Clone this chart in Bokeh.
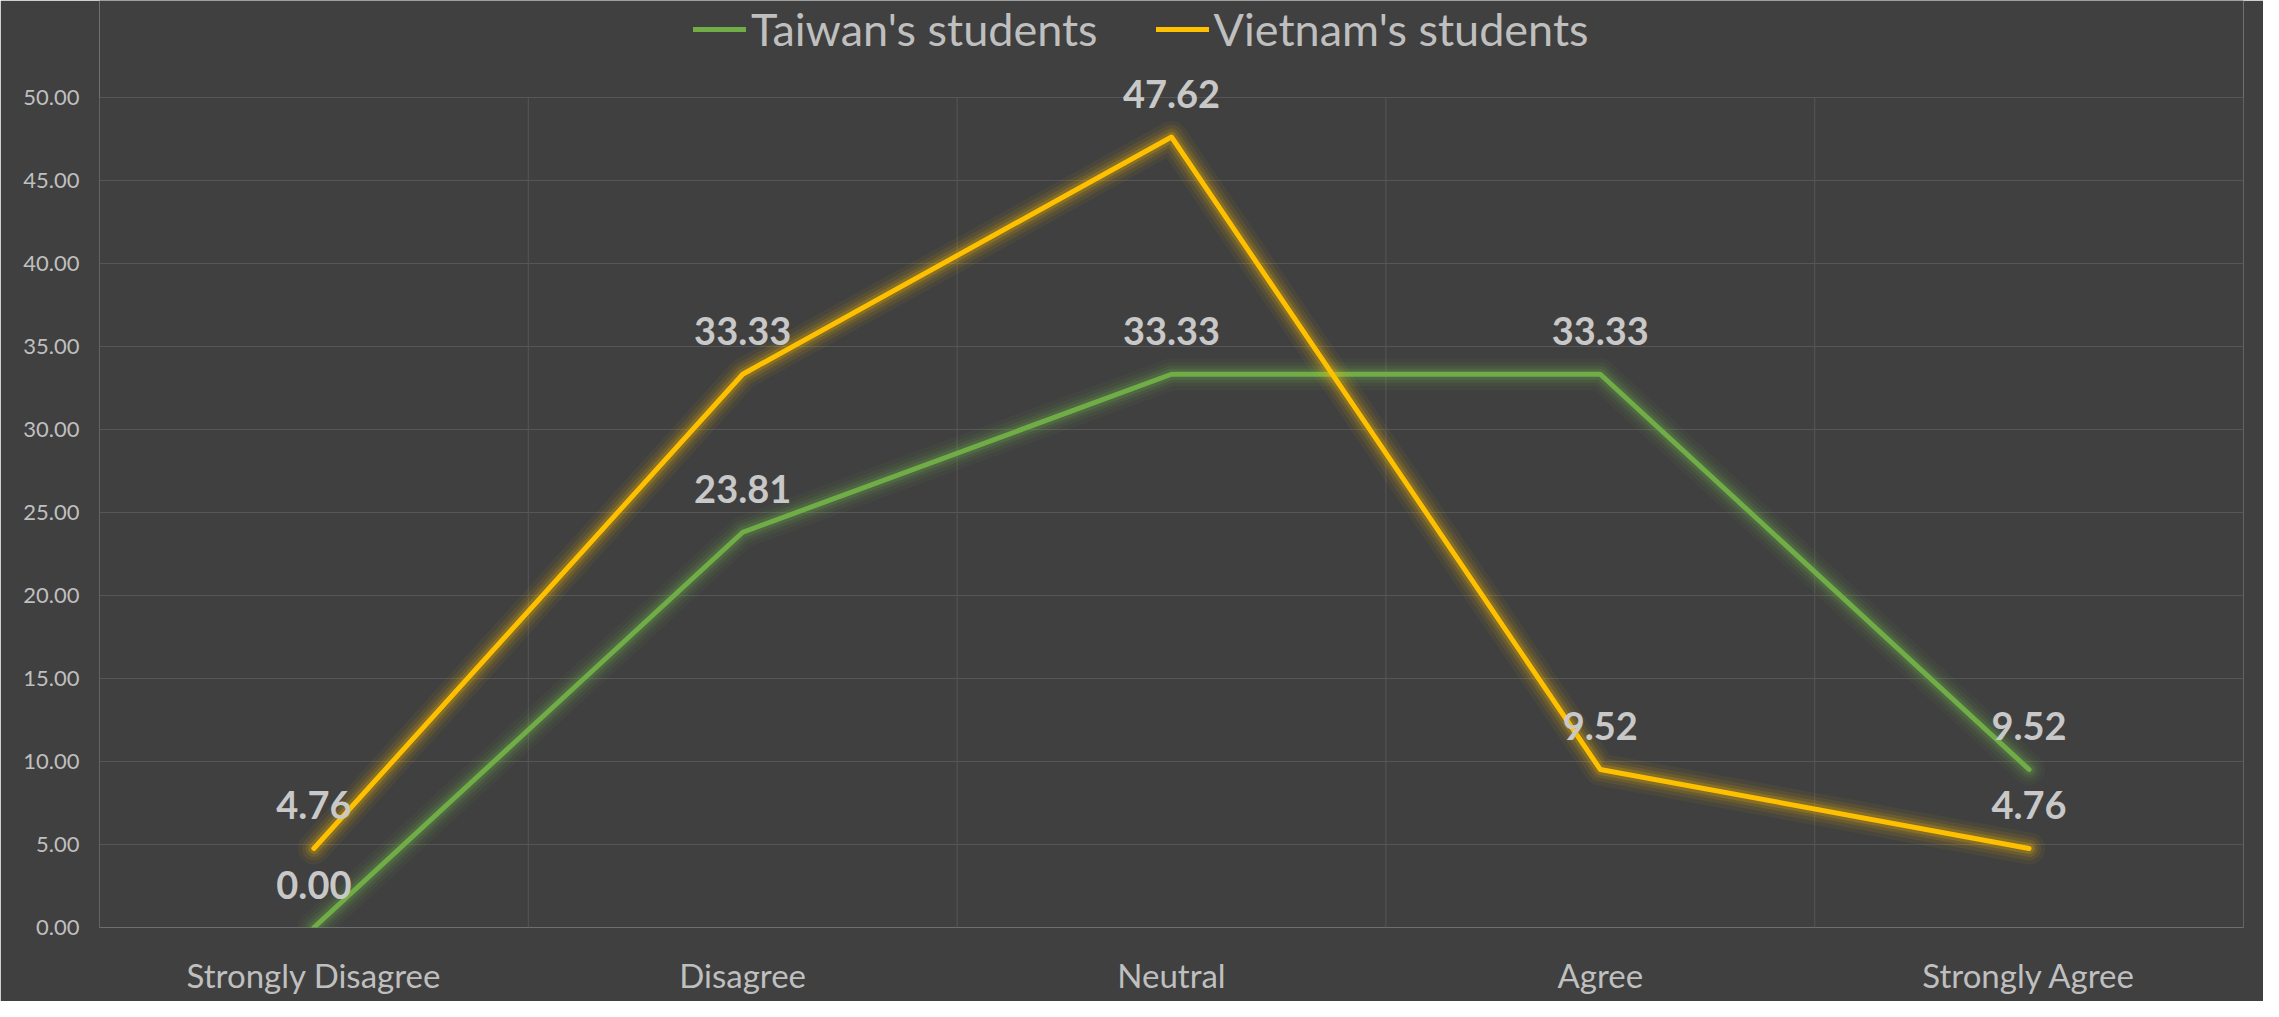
from bokeh.plotting import figure
from bokeh.models import (FactorRange, FixedTicker, NumeralTickFormatter, Legend, LegendItem,
                          ColumnDataSource, Range1d, LabelSet)
from bokeh.core.properties import value
from bokeh.embed import file_html
from bokeh.resources import INLINE

categories = ["Strongly Disagree", "Disagree", "Neutral", "Agree", "Strongly Agree"]
taiwan = [0.00, 23.81, 33.33, 33.33, 9.52]
vietnam = [4.76, 33.33, 47.62, 9.52, 4.76]
series_names = ["Taiwan's students", "Vietnam's students"]
y_ticks = [0, 5, 10, 15, 20, 25, 30, 35, 40, 45, 50]

GREEN = "#70AD47"
YELLOW = "#FFC000"
BG = "#404040"
TXT = "#BFBFBF"
GRID = "#565656"
FONT = "Lato"

# frame spans to the top of the canvas so that labels and legend are not clipped;
# the axis itself runs 0..50 (830 px), extra headroom above it is 927 px total.
y_max = y_ticks[-1]
y_top = y_max * 927 / 830

p = figure(width=2263, height=1001, x_range=FactorRange(*categories), y_range=Range1d(0, y_top),
           output_backend="svg", toolbar_location=None,
           min_border_left=99, min_border_right=20, min_border_top=0, min_border_bottom=74)
p.background_fill_color = BG
p.border_fill_color = BG
p.outline_line_color = None

src_t = ColumnDataSource(dict(x=categories, y=taiwan, lab=["%.2f" % v for v in taiwan]))
src_v = ColumnDataSource(dict(x=categories, y=vietnam, lab=["%.2f" % v for v in vietnam]))

# grid
p.xgrid.visible = False
p.ygrid.ticker = FixedTicker(ticks=y_ticks[1:])
p.ygrid.grid_line_color = GRID
bounds = [(c, -0.5) for c in categories] + [(categories[-1], 0.5)]
p.segment(x0=bounds, x1=bounds, y0=[y_ticks[0]] * len(bounds), y1=[y_max] * len(bounds),
          line_color=GRID, line_width=1)

main = {}
for src, col, name in [(src_t, GREEN, series_names[0]), (src_v, YELLOW, series_names[1])]:
    for w, a in [(32, 0.05), (24, 0.08), (17, 0.12), (11, 0.18)]:
        p.line("x", "y", source=src, line_color=col, line_width=w, line_alpha=a,
               line_join="round", line_cap="round")
    main[name] = p.line("x", "y", source=src, line_color=col, line_width=5,
                        line_join="round", line_cap="round")

for src in (src_t, src_v):
    p.add_layout(LabelSet(x="x", y="y", text="lab", source=src, text_color="#C8C8C8",
                          text_font=value(FONT), text_font_style="bold",
                          text_font_size=value("38px"),
                          text_align="center", text_baseline="middle", y_offset=43))

# axes
p.yaxis.ticker = FixedTicker(ticks=y_ticks)
p.yaxis.formatter = NumeralTickFormatter(format="0.00")
for ax in (p.xaxis[0], p.yaxis[0]):
    ax.axis_line_color = None
    ax.major_tick_line_color = None
    ax.minor_tick_line_color = None
    ax.major_label_text_color = TXT
    ax.major_label_text_font = FONT
p.yaxis.major_label_text_font_size = "22px"
p.yaxis.major_label_standoff = 14
p.xaxis.major_label_text_font_size = "33px"
p.xaxis.major_label_standoff = 21

legend = Legend(items=[LegendItem(label=n, renderers=[main[n]]) for n in series_names],
                orientation="horizontal", location=(594, 871),
                background_fill_alpha=0, border_line_color=None,
                label_text_color=TXT, label_text_font=FONT, label_text_font_size="45px",
                glyph_width=53, glyph_height=40, label_standoff=5, spacing=58,
                padding=0, margin=0)
p.add_layout(legend, "center")

open("out.html", "w").write(file_html(p, INLINE))
